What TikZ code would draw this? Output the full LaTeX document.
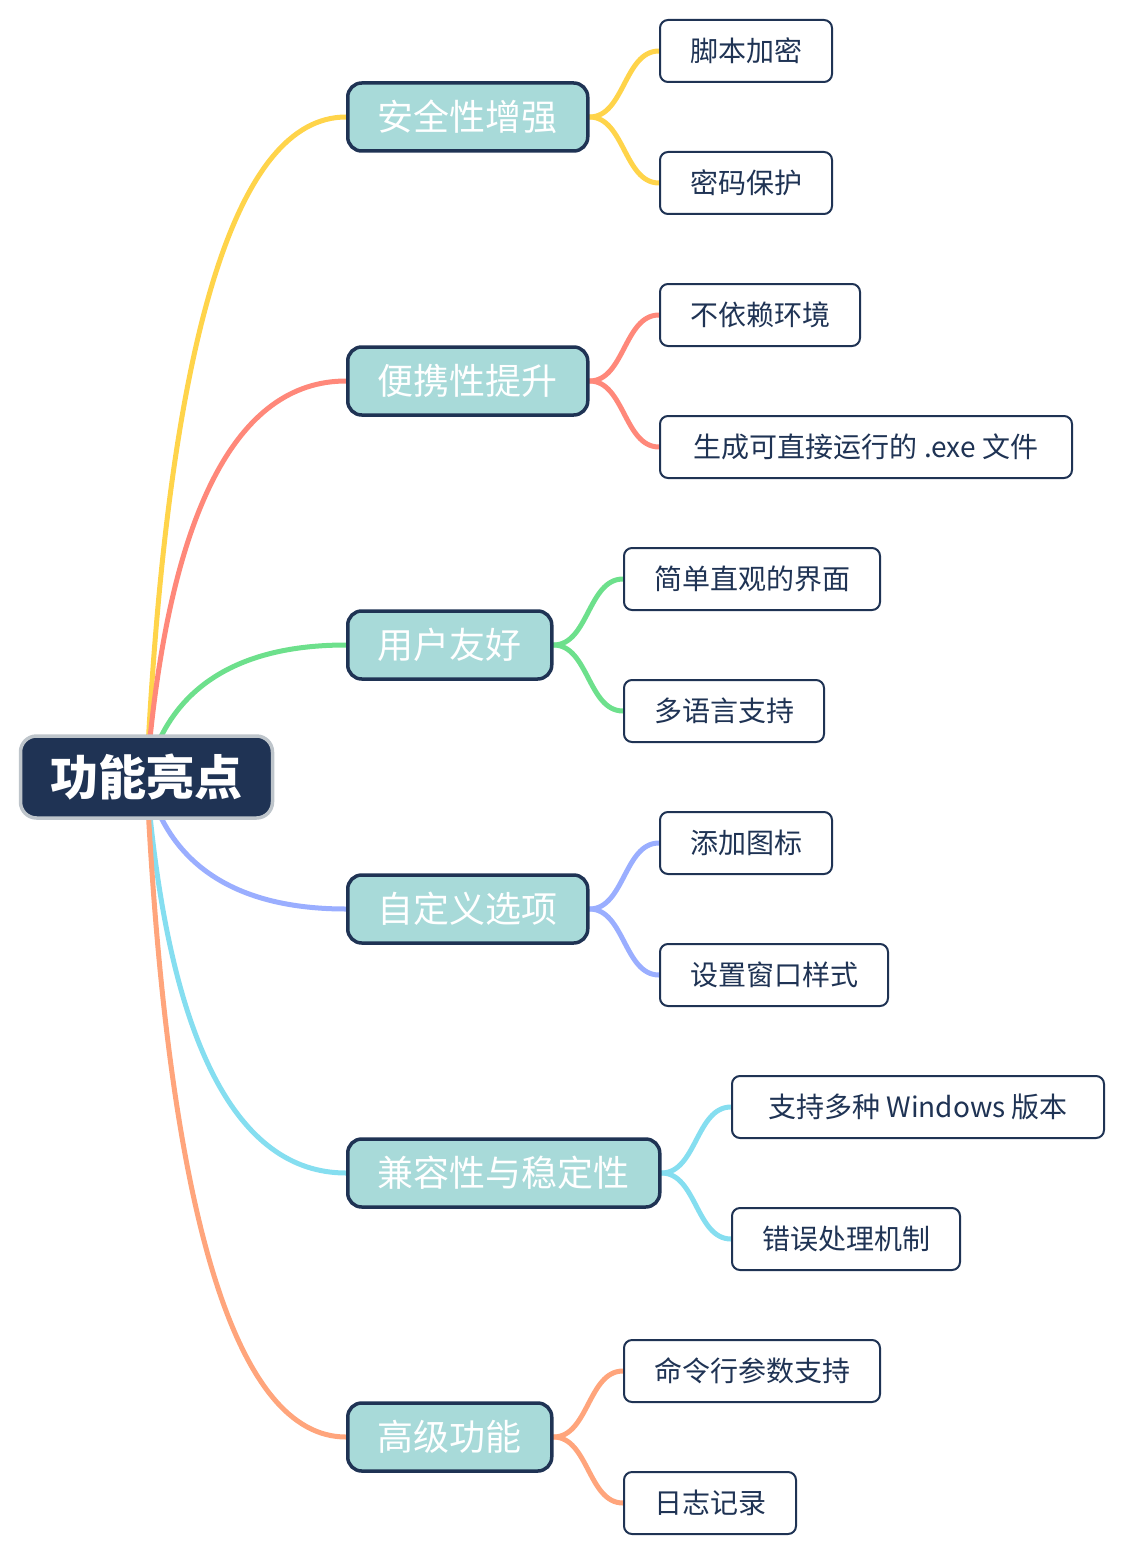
\documentclass[tikz,border=0pt]{standalone}
\usepackage{fontspec}
\setmainfont{Noto Sans CJK SC}
\usetikzlibrary{backgrounds}
\definecolor{navy}{HTML}{1F3354}
\definecolor{rootbd}{HTML}{BEC5CB}
\definecolor{mainfill}{HTML}{A8DAD9}
\definecolor{cyel}{HTML}{FFD44A}
\definecolor{csal}{HTML}{FF887A}
\definecolor{cgrn}{HTML}{6DE08C}
\definecolor{cblu}{HTML}{9AAEFF}
\definecolor{ccya}{HTML}{85DEF0}
\definecolor{cora}{HTML}{FFA57C}
\begin{document}
\begin{tikzpicture}[x=1pt,y=-1pt,
  rootbox/.style={draw=rootbd,line width=3.5pt,fill=navy,text=white,rounded corners=16pt,
    minimum height=82pt,inner xsep=30pt,font=\fontsize{48}{50}\selectfont\bfseries},
  mainbox/.style={draw=navy,line width=3.5pt,fill=mainfill,text=white,rounded corners=14pt,
    minimum height=68pt,inner xsep=30pt,anchor=west,font=\fontsize{36}{40}\selectfont},
  leafbox/.style={draw=navy,line width=2pt,fill=white,text=navy,rounded corners=8pt,
    minimum height=62pt,inner xsep=30pt,anchor=west,font=\fontsize{28}{32}\selectfont},
  link/.style={line width=5pt,line cap=round}]
\useasboundingbox (0,0) rectangle (1124,1554);
\node[rootbox] (root) at (146.5,777) {功能亮点};
\node[mainbox] (m1) at (346,117) {安全性增强};
\node[mainbox] (m2) at (346,381) {便携性提升};
\node[mainbox] (m3) at (346,645) {用户友好};
\node[mainbox] (m4) at (346,909) {自定义选项};
\node[mainbox] (m5) at (346,1173) {兼容性与稳定性};
\node[mainbox] (m6) at (346,1437) {高级功能};
\node[leafbox] (c11) at (659,51) {脚本加密};
\node[leafbox] (c12) at (659,183) {密码保护};
\node[leafbox] (c21) at (659,315) {不依赖环境};
\node[leafbox,minimum width=412pt] (c22) at (659,447) {生成可直接运行的 .exe 文件};
\node[leafbox] (c31) at (623,579) {简单直观的界面};
\node[leafbox] (c32) at (623,711) {多语言支持};
\node[leafbox] (c41) at (659,843) {添加图标};
\node[leafbox] (c42) at (659,975) {设置窗口样式};
\node[leafbox,minimum width=372pt] (c51) at (731,1107) {支持多种 Windows 版本};
\node[leafbox] (c52) at (731,1239) {错误处理机制};
\node[leafbox] (c61) at (623,1371) {命令行参数支持};
\node[leafbox] (c62) at (623,1503) {日志记录};
\begin{scope}[on background layer]
\draw[link,cyel] (root.center) .. controls +(21,-440) and +(-110,0) .. (m1.west);
\draw[link,csal] (root.center) .. controls +(21,-264) and +(-110,0) .. (m2.west);
\draw[link,cgrn] (root.center) .. controls +(21,-88) and +(-110,0) .. (m3.west);
\draw[link,cblu] (root.center) .. controls +(21,88) and +(-110,0) .. (m4.west);
\draw[link,ccya] (root.center) .. controls +(21,264) and +(-110,0) .. (m5.west);
\draw[link,cora] (root.center) .. controls +(21,440) and +(-110,0) .. (m6.west);
\draw[link,cyel] (m1.east) .. controls +(35,0) and +(-35,0) .. (c11.west);
\draw[link,cyel] (m1.east) .. controls +(35,0) and +(-35,0) .. (c12.west);
\draw[link,csal] (m2.east) .. controls +(35,0) and +(-35,0) .. (c21.west);
\draw[link,csal] (m2.east) .. controls +(35,0) and +(-35,0) .. (c22.west);
\draw[link,cgrn] (m3.east) .. controls +(35,0) and +(-35,0) .. (c31.west);
\draw[link,cgrn] (m3.east) .. controls +(35,0) and +(-35,0) .. (c32.west);
\draw[link,cblu] (m4.east) .. controls +(35,0) and +(-35,0) .. (c41.west);
\draw[link,cblu] (m4.east) .. controls +(35,0) and +(-35,0) .. (c42.west);
\draw[link,ccya] (m5.east) .. controls +(35,0) and +(-35,0) .. (c51.west);
\draw[link,ccya] (m5.east) .. controls +(35,0) and +(-35,0) .. (c52.west);
\draw[link,cora] (m6.east) .. controls +(35,0) and +(-35,0) .. (c61.west);
\draw[link,cora] (m6.east) .. controls +(35,0) and +(-35,0) .. (c62.west);
\end{scope}
\end{tikzpicture}
\end{document}
